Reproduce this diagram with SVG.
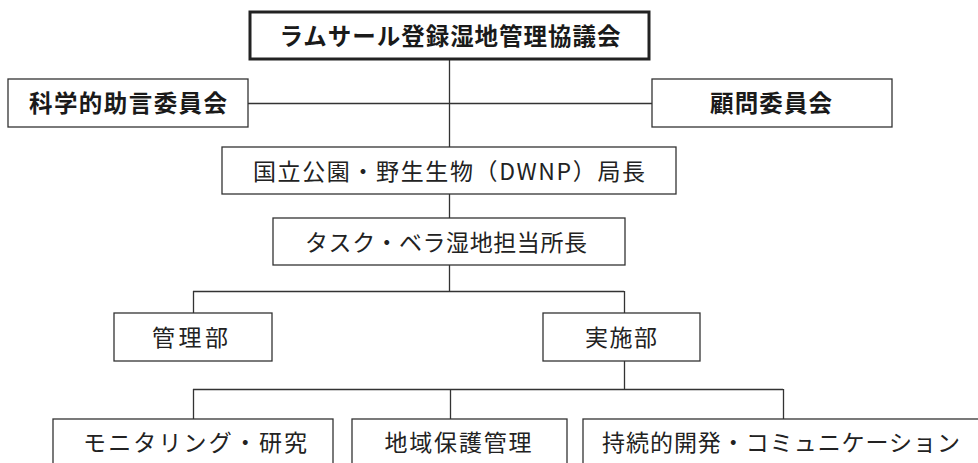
<svg xmlns="http://www.w3.org/2000/svg" width="978" height="463" viewBox="0 0 978 463">
<style>
.box{fill:#fff;stroke:#333;stroke-width:1.3}
.thick{fill:#fff;stroke:#222;stroke-width:3}
.ln{stroke:#333;stroke-width:1.3;fill:none}
.t{font-family:"Noto Sans CJK JP","Noto Sans",sans-serif;font-size:23px;fill:#222;text-anchor:middle;dominant-baseline:central}
.b{font-weight:bold;font-size:23.5px;fill:#1a1a1a}
</style>
<rect width="978" height="463" fill="#fff"/>
<g id="connectors">
<path class="ln" d="M449.5 59V147M248 103.5H652M449.5 194V218M449.5 265V291.5M193 291.5H624M193.5 291V313M624.5 291V313M624.5 361V389.5M193 389.5H783M193.5 389V419M450.5 389V419M783.5 389V419"/>
</g>
<g id="n-council"><rect class="thick" x="250" y="12" width="399" height="47"/><text class="t b" x="450" y="35" textLength="341" lengthAdjust="spacing">ラムサール登録湿地管理協議会</text></g>
<g id="n-science"><rect class="box" x="8" y="79" width="240" height="48"/><text class="t b" x="128" y="102" textLength="198" lengthAdjust="spacing">科学的助言委員会</text></g>
<g id="n-advisory"><rect class="box" x="652" y="79" width="240" height="48"/><text class="t b" x="771" y="102" textLength="122" lengthAdjust="spacing">顧問委員会</text></g>
<g id="n-dwnp"><rect class="box" x="222" y="147" width="454" height="47"/><text class="t" x="449" y="170" textLength="392" lengthAdjust="spacing">国立公園・野生生物（DWNP）局長</text></g>
<g id="n-tusk"><rect class="box" x="273" y="218" width="352" height="47"/><text class="t" x="446" y="241" textLength="282" lengthAdjust="spacing">タスク・ベラ湿地担当所長</text></g>
<g id="n-admin"><rect class="box" x="114" y="313" width="158" height="48"/><text class="t" x="190" y="336" textLength="76" lengthAdjust="spacing">管理部</text></g>
<g id="n-impl"><rect class="box" x="543" y="313" width="157" height="48"/><text class="t" x="621" y="336" textLength="72" lengthAdjust="spacing">実施部</text></g>
<g id="n-monitor"><rect class="box" x="53" y="419" width="280" height="60"/><text class="t" x="195" y="441" textLength="224" lengthAdjust="spacing">モニタリング・研究</text></g>
<g id="n-protect"><rect class="box" x="352" y="419" width="215" height="60"/><text class="t" x="458" y="441" textLength="147" lengthAdjust="spacing">地域保護管理</text></g>
<g id="n-sustain"><rect class="box" x="583" y="419" width="400" height="60"/><text class="t" x="781" y="441" textLength="358" lengthAdjust="spacing">持続的開発・コミュニケーション</text></g>
</svg>
